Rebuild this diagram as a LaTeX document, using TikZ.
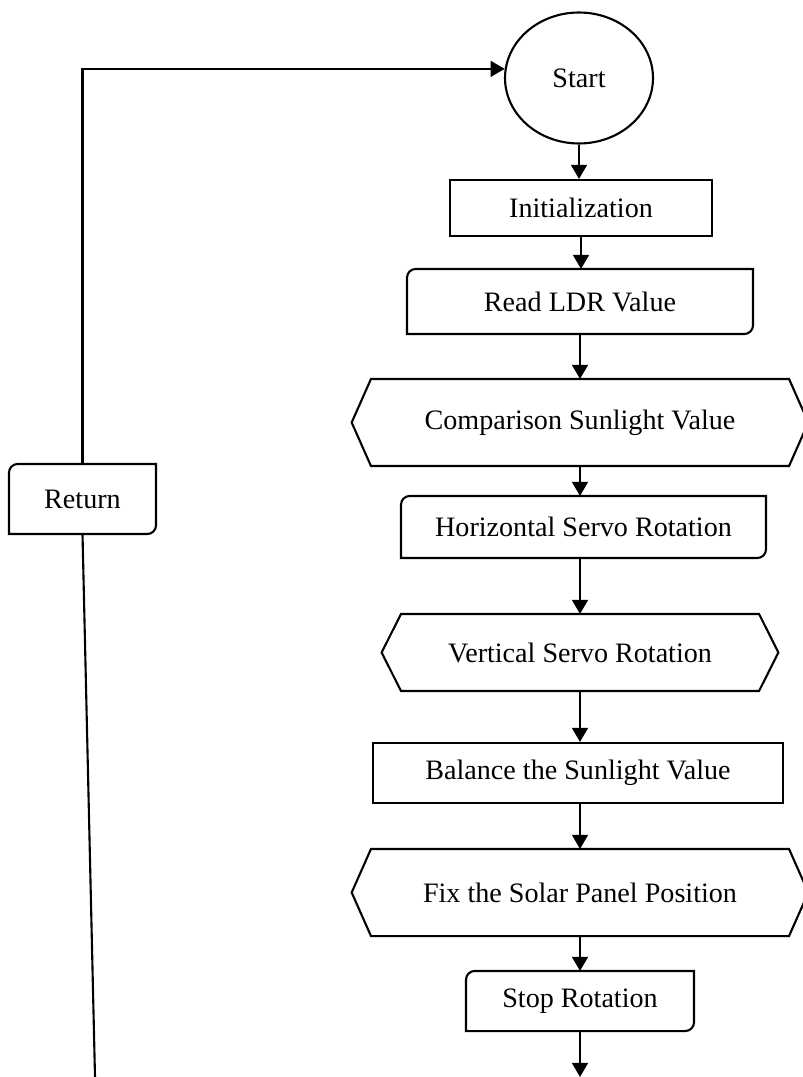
\documentclass[tikz,border=0pt]{standalone}
\usepackage{fontspec}
\setmainfont{Liberation Serif}
\usepackage{tikz}
\usetikzlibrary{arrows.meta,shapes.geometric,calc}

\begin{document}
\begin{tikzpicture}[x=0.02cm,y=0.02cm,line width=1.2pt,
    every node/.style={font=\fontsize{16}{19}\selectfont,inner sep=0pt},
    flowbox/.style 2 args={draw,minimum width=#1,minimum height=#2},
    shapebox/.style 2 args={minimum width=#1,minimum height=#2},
    flowarrow/.style={-{Triangle[length=8pt,width=9pt]}}]
   \useasboundingbox (0,0) rectangle (802,-1077);

   \node[draw,ellipse,minimum width=2.96cm,minimum height=2.62cm] (Start) at (579,-78) {Start};
   \node[flowbox={5.24cm}{1.12cm}] (Init) at (581,-208) {Initialization};
   \node[shapebox={6.88cm}{1.26cm}] (LDR) at (580,-301.5) {Read LDR Value};
   \node[shapebox={8.32cm}{1.7cm}] (Cmp) at (580,-422.5) {Comparison Sunlight Value};
   \node[shapebox={7.26cm}{1.2cm}] (Hor) at (583.5,-527) {Horizontal Servo Rotation};
   \node[shapebox={7.12cm}{1.5cm}] (Ver) at (580,-652.5) {Vertical Servo Rotation};
   \node[flowbox={8.2cm}{1.2cm}] (Bal) at (578,-773) {Balance the Sunlight Value};
   \node[shapebox={8.32cm}{1.7cm}] (Fix) at (580,-892.5) {Fix the Solar Panel Position};
   \node[shapebox={4.52cm}{1.16cm}] (Stop) at (580,-1001) {Stop Rotation};
   \node[shapebox={2.9cm}{1.36cm}] (Ret) at (82.5,-499) {Return};
   \coordinate (End) at (580,-1077);
   \coordinate (Back) at (95,-1077);

   \foreach \n in {LDR,Hor,Stop,Ret}
     \draw ([xshift=5pt]\n.north west) -- (\n.north east) -- ([yshift=5pt]\n.south east)
       arc[start angle=0,end angle=-90,radius=5pt] -- (\n.south west) -- ([yshift=-5pt]\n.north west)
       arc[start angle=180,end angle=90,radius=5pt] -- cycle;

   \foreach \n in {Cmp,Ver,Fix}
     \draw (\n.north west) -- (\n.north east) -- ([xshift=11pt]\n.east) -- (\n.south east)
       -- (\n.south west) -- ([xshift=-11pt]\n.west) -- cycle;

   \draw[flowarrow] (Start.south) -- (Start.south |- Init.north);
   \draw[flowarrow] (Init.south) -- (Init.south |- LDR.north);
   \draw[flowarrow] (LDR.south) -- (LDR.south |- Cmp.north);
   \draw[flowarrow] (Cmp.south) -- (Cmp.south |- Hor.north);
   \draw[flowarrow] (Hor.south -| Cmp.south) -- (Cmp.south |- Ver.north);
   \draw[flowarrow] (Ver.south) -- (Ver.south |- Bal.north);
   \draw[flowarrow] (Bal.south -| Fix.north) -- (Fix.north);
   \draw[flowarrow] (Fix.south) -- (Fix.south |- Stop.north);
   \draw[flowarrow] (Stop.south) -- (End);
   \draw (Back) -- (Ret.south);
   \draw[flowarrow] (Ret.north) |- (Start.173);
\end{tikzpicture}
\end{document}
